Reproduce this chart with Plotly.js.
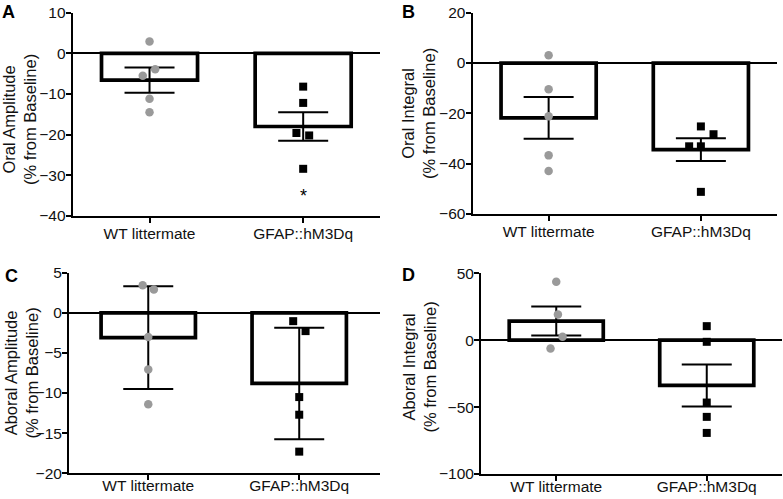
<!DOCTYPE html>
<html>
<head>
<meta charset="utf-8">
<script src="https://cdn.plot.ly/plotly-3.0.1.min.js"></script>
<style>html,body{margin:0;padding:0;background:#fff;}#chart{width:783px;height:499px;}</style>
</head>
<body>
<div id="chart"></div>
<script>
// ---- data ----
const categories = ['WT littermate', 'GFAP::hM3Dq'];

// Panel A: Oral Amplitude
const oralAmpMean = [-6.6, -18.0];
const oralAmpSem  = [3.1, 3.5];
const oralAmpWT   = [2.9, -3.9, -5.5, -11.2, -14.5];
const oralAmpWTJit = [0, 0.037, -0.044, 0, 0];
const oralAmpKO   = [-8.2, -12.2, -19.6, -20.2, -28.4];
const oralAmpKOJit = [0, 0, -0.044, 0.039, 0];

// Panel B: Oral Integral
const oralIntMean = [-21.8, -34.4];
const oralIntSem  = [8.3, 4.5];
const oralIntWT   = [3.1, -10.4, -21.2, -36.7, -42.9];
const oralIntWTJit = [0, 0, 0, 0, 0];
const oralIntKO   = [-25.2, -28.3, -33.1, -33.1, -51.2];
const oralIntKOJit = [0, 0.083, -0.077, 0, 0];

// Panel C: Aboral Amplitude
const aboralAmpMean = [-3.1, -8.8];
const aboralAmpSem  = [6.4, 6.95];
const aboralAmpWT   = [3.44, 2.9, -3.0, -7.05, -11.4];
const aboralAmpWTJit = [-0.037, 0.037, 0, 0, 0];
const aboralAmpKO   = [-1.04, -2.28, -10.5, -12.7, -17.3];
const aboralAmpKOJit = [-0.04, 0.042, 0, 0, 0];

// Panel D: Aboral Integral
const aboralIntMean = [14.3, -33.8];
const aboralIntSem  = [10.8, 15.7];
const aboralIntWT   = [43.6, 19.2, 2.5, -6.2];
const aboralIntWTJit = [0, 0.011, 0.042, -0.038];
const aboralIntKO   = [10.5, -1.2, -46.6, -57.3, -69.3];
const aboralIntKOJit = [0, 0, 0, 0, 0];

const yTitles = [
  'Oral Amplitude<br>(% from Baseline)',
  'Oral Integral<br>(% from Baseline)',
  'Aboral Amplitude<br>(% from Baseline)',
  'Aboral Integral<br>(% from Baseline)'
];
const panelLetters = ['A', 'B', 'C', 'D'];

// ---- build ----
const FONT = 'Liberation Sans, Arial, Helvetica, sans-serif';
const panels = [
  {mean: oralAmpMean, sem: oralAmpSem, wt: oralAmpWT, wtj: oralAmpWTJit, ko: oralAmpKO, koj: oralAmpKOJit},
  {mean: oralIntMean, sem: oralIntSem, wt: oralIntWT, wtj: oralIntWTJit, ko: oralIntKO, koj: oralIntKOJit},
  {mean: aboralAmpMean, sem: aboralAmpSem, wt: aboralAmpWT, wtj: aboralAmpWTJit, ko: aboralAmpKO, koj: aboralAmpKOJit},
  {mean: aboralIntMean, sem: aboralIntSem, wt: aboralIntWT, wtj: aboralIntWTJit, ko: aboralIntKO, koj: aboralIntKOJit}
];

const W = 783, H = 499;
// pixel boxes: [left, right, top, bottom]
const boxes = [
  [72.7, 380, 12.6, 216],
  [472.5, 777, 12.7, 214],
  [69, 380, 272.7, 473.3],
  [481, 782, 273.3, 474]
];
const yRanges = [[-40, 10], [-60, 20], [-20, 5], [-100, 50]];
const yDticks = [10, 20, 5, 50];
const xRanges = [[-0.5, 1.5], [-0.5, 1.5], [-0.525, 1.535], [-0.5, 1.5]];
const xLabelStandoff = [-3, -3, -8, -8];
// y-title block centres in pixels [x, y]
const yTitlePos = [[19, 120], [418.5, 113.5], [20.5, 373], [418.5, 367]];

const idx = categories.map((c, i) => i);
const traces = [];
const layout = {
  width: W, height: H, autosize: false,
  margin: {l: 0, r: 0, t: 0, b: 0},
  paper_bgcolor: '#fff', plot_bgcolor: '#fff',
  showlegend: false,
  font: {family: FONT, color: '#111'},
  annotations: []
};

panels.forEach((p, k) => {
  const n = k === 0 ? '' : String(k + 1);
  const xa = 'x' + n, ya = 'y' + n;
  traces.push({
    type: 'bar', x: idx, y: p.mean, xaxis: xa, yaxis: ya, width: 0.625,
    marker: {color: '#fff', line: {color: '#000', width: 3.7}},
    error_y: {type: 'data', array: p.sem, visible: true, color: '#000', thickness: 2, width: 25},
    hoverinfo: 'none'
  });
  traces.push({
    type: 'scatter', mode: 'markers', xaxis: xa, yaxis: ya,
    x: p.wt.map((v, i) => 0 + p.wtj[i]), y: p.wt,
    marker: {symbol: 'circle', size: 8.5, color: '#9a9a9a'}, cliponaxis: false
  });
  traces.push({
    type: 'scatter', mode: 'markers', xaxis: xa, yaxis: ya,
    x: p.ko.map((v, i) => 1 + p.koj[i]), y: p.ko,
    marker: {symbol: 'square', size: 8, color: '#000'}, cliponaxis: false
  });
  const b = boxes[k];
  layout['xaxis' + n] = {
    domain: [b[0] / W, b[1] / W], anchor: ya, range: xRanges[k],
    tickvals: idx, ticktext: categories, ticks: 'outside', ticklen: 5, tickwidth: 2, tickcolor: '#000',
    ticklabelstandoff: xLabelStandoff[k],
    showline: true, linewidth: 2, linecolor: '#000', showgrid: false, zeroline: false,
    tickfont: {family: FONT, size: 15.5, color: '#111'}, fixedrange: true
  };
  layout['yaxis' + n] = {
    domain: [(H - b[3]) / H, (H - b[2]) / H], anchor: xa, range: yRanges[k],
    dtick: yDticks[k], tick0: 0, ticks: 'outside', ticklen: 5, tickwidth: 2, tickcolor: '#000',
    ticklabelstandoff: -3,
    showline: true, linewidth: 2, linecolor: '#000', showgrid: false,
    zeroline: true, zerolinewidth: 2, zerolinecolor: '#000',
    tickfont: {family: FONT, size: 15.5, color: '#111'},
    fixedrange: true
  };
  // y-axis title (two lines, rotated)
  layout.annotations.push({
    xref: 'paper', yref: 'paper', x: yTitlePos[k][0] / W, y: 1 - yTitlePos[k][1] / H,
    xanchor: 'center', yanchor: 'middle', textangle: -90, showarrow: false,
    text: yTitles[k], font: {family: FONT, size: 16.5, color: '#111'}
  });
});

// panel letters
const letterPos = [[0, 0], [400, 0], [3, 264], [400, 263]];
panelLetters.forEach((L, k) => {
  layout.annotations.push({
    xref: 'paper', yref: 'paper', x: letterPos[k][0] / W, y: 1 - letterPos[k][1] / H,
    xanchor: 'left', yanchor: 'top', showarrow: false, text: '<b>' + L + '</b>',
    font: {family: FONT, size: 18, color: '#000'}
  });
});
// significance asterisk (panel A, GFAP group)
layout.annotations.push({
  xref: 'x', yref: 'y', x: 1, y: -35.2, text: '*', showarrow: false,
  font: {family: FONT, size: 18, color: '#000'}
});

Plotly.newPlot('chart', traces, layout, {displayModeBar: false, staticPlot: true});
</script>
</body>
</html>
